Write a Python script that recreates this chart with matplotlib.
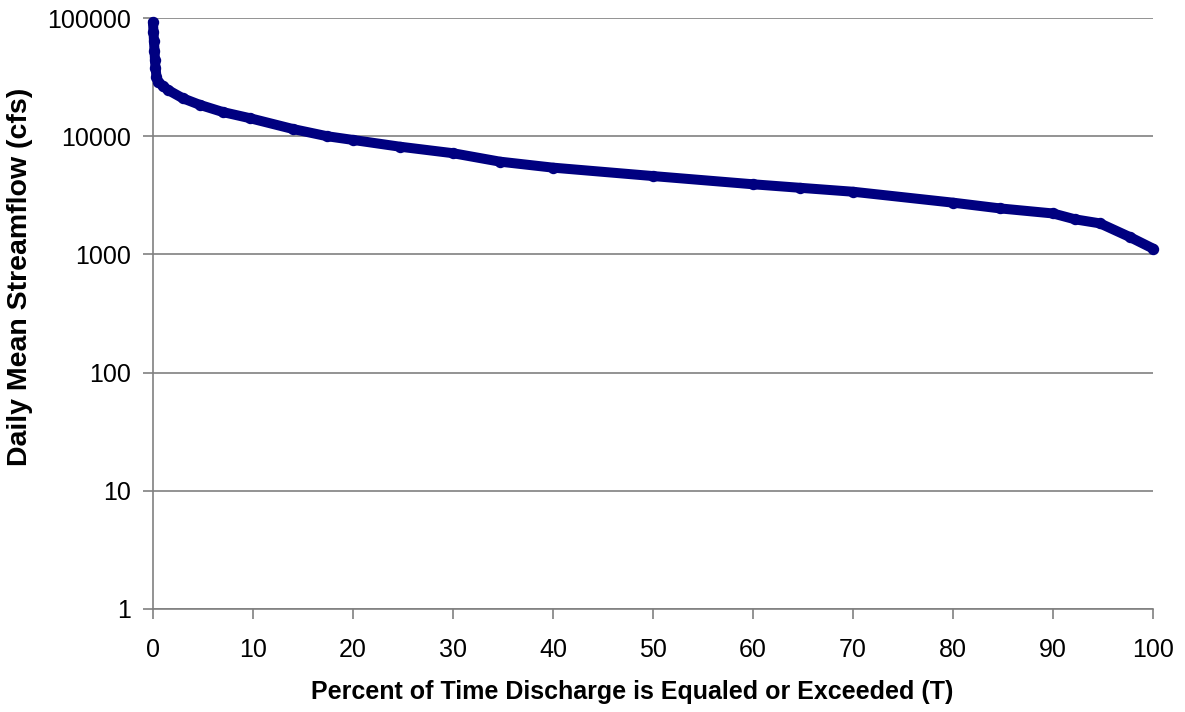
import matplotlib
matplotlib.use("Agg")
import matplotlib.pyplot as plt
from matplotlib.ticker import FixedLocator, FixedFormatter, NullLocator

plt.rcParams['font.family'] = ['Liberation Sans', 'DejaVu Sans']

# flow duration curve: exceedance percent vs daily mean flow (cfs)
pct = [0.0, 0.05, 0.1, 0.15, 0.2, 0.25, 0.35, 0.5, 1.0, 1.5, 3.0, 4.7, 7.0,
       9.7, 14.0, 17.4, 20.0, 24.7, 30.0, 34.7, 40.0, 50.0, 60.0, 64.7,
       70.0, 80.0, 84.7, 90.0, 92.2, 94.7, 97.7, 100.0]
flow = [92000, 76000, 64000, 53000, 44000, 38000, 32000, 29000, 26500,
        24600, 20900, 18400, 16000, 14200, 11500, 10000, 9300, 8150, 7180,
        6090, 5420, 4600, 3920, 3660, 3390, 2740, 2450, 2220, 1980, 1830,
        1400, 1120]

y_ticks = [1, 10, 100, 1000, 10000, 100000]
y_labels = ['1', '10', '100', '1000', '10000', '100000']
x_ticks = list(range(0, 101, 10))

W, H = 1185, 712
fig = plt.figure(figsize=(W / 100, H / 100), dpi=100)
ax = fig.add_axes([0.1291, 0.1447, 0.8439, 0.83])

ax.plot(pct, flow, color='#000080', lw=7.2, marker='o', ms=7.2,
        solid_capstyle='round', solid_joinstyle='round', zorder=3,
        clip_on=False)

ax.set_yscale('log')
ax.set_xlim(0, 100)
ax.set_ylim(1, 100000)
ax.yaxis.set_major_locator(FixedLocator(y_ticks))
ax.yaxis.set_major_formatter(FixedFormatter(y_labels))
ax.yaxis.set_minor_locator(NullLocator())
ax.set_xticks(x_ticks)
ax.set_xticklabels([str(t) for t in x_ticks])

ax.grid(axis='y', color='#808080', lw=1.2)
ax.set_axisbelow(True)
for s in ['top', 'right']:
    ax.spines[s].set_visible(False)
for s in ['left', 'bottom']:
    ax.spines[s].set_color('#808080')
    ax.spines[s].set_linewidth(1.2)

ax.tick_params(axis='both', direction='out', length=7, width=1.2,
               color='#808080', labelsize=18)
ax.tick_params(axis='x', pad=14)
ax.tick_params(axis='y', pad=9)

# axis titles placed in figure pixels
fig.text(632 / W, 1 - 692 / H,
         'Percent of Time Discharge is Equaled or Exceeded (T)',
         fontsize=18, fontweight='bold', ha='center', va='center')
fig.text(20 / W, 1 - 277 / H, 'Daily Mean Streamflow (cfs)',
         fontsize=20.5, fontweight='bold', rotation=90,
         ha='center', va='center')

fig.savefig('out.png', dpi=100)
